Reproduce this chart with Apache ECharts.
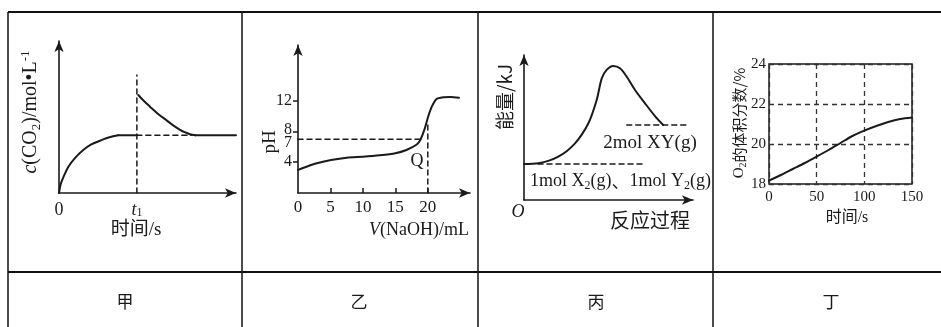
<!DOCTYPE html>
<html><head><meta charset="utf-8">
<script src="https://cdn.jsdelivr.net/npm/echarts@6/dist/echarts.min.js"></script>
<style>html,body{margin:0;padding:0;background:#fff}#c{width:941px;height:327px}</style>
</head><body><div id="c"></div>
<script>
// ---- 甲 : c(CO2) vs time (schematic units 0..100)
const jiaRise = [[0,0],[1,6],[2.5,10.5],[5.3,17.3],[9,23],[13.7,28.3],[18,31.8],[23.2,34.4],[28,36.5],[33.5,38]];
const jiaFlatA = [[33.5,38],[44,38]];
const jiaDecay = [[44.8,64.5],[48,60.5],[51.4,56.8],[56,52],[60.8,47.8],[64.5,44.5],[68.4,41.6],[71,40],[74,38.7],[77,38]];
const jiaFlatB = [[77,38],[100,38]];
const jiaDashH = [[44,38],[75,38]];
const jiaDashV = [[44,0],[44,77.6]];
const jiaTickValues = [0,44];
const jiaTickLabels = ['0','{i|t}{s|1}'];

// ---- 乙 : pH vs V(NaOH)
const yiCurve = [[0,3.0],[1.3,3.42],[2.9,3.86],[5.1,4.29],[7.5,4.6],[10,4.72],[12.6,4.9],[15,5.16],[16.7,5.59],[18.3,6.3],[18.9,7.0],[19.5,8.3],[20.05,9.92],[20.6,11.2],[21.3,12.2],[22.4,12.45],[23.5,12.48],[24.8,12.4]];
const yiDashH = [[0,7],[18.9,7]];
const yiDashV = [[20,0],[20,9.3]];
const yiXTicks = [0,5,10,15,20];
const yiXTickMarks = [5,10,15,20];
const yiYTicks = [4,7,8,12];
const yiYTickMarks = [4,8,12];

// ---- 丙 : energy vs reaction progress (schematic units 0..100)
const bingCurve = [[0,24.8],[8.5,25.3],[20.3,29.9],[30.2,39.1],[38.1,52.9],[43,69],[46,83.9],[48.9,89.7],[52.8,92.4],[56.8,90.8],[60.8,85],[65.7,75.9],[71.6,66.7],[77.5,57.9],[82.4,51.7]];
const bingDashLow = [[8.3,24.8],[69.8,24.8]];
const bingDashHigh = [[60.8,51.7],[97.2,51.7]];

// ---- 丁 : O2 volume fraction vs time
const dingCurve = [[0,18.17],[12.5,18.45],[25,18.75],[37.5,19.05],[50,19.37],[62.5,19.7],[75,20.05],[87.5,20.4],[100,20.67],[112.5,20.9],[125,21.1],[137.5,21.25],[150,21.33]];

// ---- table labels
const panelNames = ['甲','乙','丙','丁'];

const SERIF = '"Liberation Serif","Noto Sans CJK SC",serif';
const CJK = '"Noto Sans CJK SC",sans-serif';
const INK = '#1a1a1a';

const chart = echarts.init(document.getElementById('c'), null, {renderer:'canvas'});

function arrowAxis(extra){
  return Object.assign({
    type:'value', splitLine:{show:false},
    axisLine:{show:true, symbol:['none','arrow'], symbolSize:[7,11], lineStyle:{color:INK, width:1.6}},
    axisTick:{show:false}, axisLabel:{show:false}
  }, extra);
}
function ln(xi, data, dashed, w, sm){
  return {type:'line', xAxisIndex:xi, yAxisIndex:xi, data:data, showSymbol:false, symbol:'none',
    smooth: dashed ? false : (sm === undefined ? 0.3 : sm), animation:false, silent:true,
    lineStyle:{color:INK, width: w || 2, type: dashed ? [5,4] : 'solid', cap:'round', join:'round'}};
}
function rich(size){
  return {
    s:{fontSize:Math.round(size*0.65), lineHeight:Math.round(size*0.6), verticalAlign:'bottom', fontFamily:SERIF, fill:INK},
    p:{fontSize:Math.round(size*0.65), lineHeight:Math.round(size*0.6), verticalAlign:'top', fontFamily:SERIF, fill:INK},
    i:{fontStyle:'italic', fontSize:size, lineHeight:size+4, fontFamily:SERIF, fill:INK},
    n:{fontSize:size, lineHeight:size+4, fontFamily:SERIF, fill:INK},
    c:{fontSize:size, lineHeight:size+4, fontFamily:CJK, fill:INK}
  };
}
function txt(x,y,text,size,opts){
  opts = opts || {};
  const al = opts.align || 'center';
  return {type:'text', x:x, y:y, rotation:opts.rot||0, silent:true,
    style:{text:text, fill:INK, font:(opts.italic?'italic ':'')+size+'px '+(opts.font||SERIF),
      align:al, verticalAlign:'middle', textAlign:al, textVerticalAlign:'middle',
      rich: opts.rich ? rich(size) : undefined}};
}
function gl(x1,y1,x2,y2,w){
  return {type:'line', silent:true, shape:{x1:x1,y1:y1,x2:x2,y2:y2}, style:{stroke:'#111', lineWidth:w||1.5}};
}

const option = {
  animation:false,
  backgroundColor:'#fff',
  grid:[
    {left:59, top:41, width:177, height:152},
    {left:298, top:45, width:172, height:148},
    {left:524, top:55, width:169, height:145},
    {left:769, top:64, width:143, height:120, show:true, borderColor:INK, borderWidth:1.5}
  ],
  xAxis:[
    arrowAxis({gridIndex:0, min:0, max:100,
      axisLabel:{show:true, customValues:jiaTickValues, margin:8, color:INK, fontSize:18, fontFamily:SERIF,
        formatter:function(v){ return jiaTickLabels[jiaTickValues.indexOf(v)]; },
        rich:{i:{fontStyle:'italic', fontSize:18, fontFamily:SERIF, color:INK}, s:{fontSize:12, fontFamily:SERIF, color:INK, verticalAlign:'bottom', lineHeight:12, padding:[9,0,0,0]}}}}),
    arrowAxis({gridIndex:1, min:0, max:26.5,
      axisTick:{show:true, inside:true, length:5, customValues:yiXTickMarks, lineStyle:{color:INK, width:1.5}},
      axisLabel:{show:true, customValues:yiXTicks, margin:6, color:INK, fontSize:17, fontFamily:SERIF}}),
    arrowAxis({gridIndex:2, min:0, max:100}),
    {type:'value', gridIndex:3, min:0, max:150, interval:50,
      axisLine:{show:false}, axisTick:{show:false},
      splitLine:{show:true, lineStyle:{color:'#333', width:1.3, type:[5,4]}},
      axisLabel:{margin:6, color:INK, fontSize:15, fontFamily:SERIF}}
  ],
  yAxis:[
    arrowAxis({gridIndex:0, min:0, max:100}),
    arrowAxis({gridIndex:1, min:0, max:19.25,
      axisTick:{show:true, length:5, customValues:yiYTickMarks, lineStyle:{color:INK, width:1.5}},
      axisLabel:{show:true, customValues:yiYTicks, margin:6, color:INK, fontSize:16, fontFamily:SERIF,
        formatter:function(v){ return v === 7 ? '{d|7}' : (v === 8 ? '{u|8}' : String(v)); },
        rich:{d:{fontSize:16, fontFamily:SERIF, color:INK, padding:[8,0,0,0]}, u:{fontSize:16, fontFamily:SERIF, color:INK, padding:[0,0,3,0]}}}}),
    arrowAxis({gridIndex:2, min:0, max:100}),
    {type:'value', gridIndex:3, min:18, max:24, interval:2,
      axisLine:{show:false}, axisTick:{show:false},
      splitLine:{show:true, lineStyle:{color:'#333', width:1.3, type:[5,4]}},
      axisLabel:{margin:3, color:INK, fontSize:15, fontFamily:SERIF}}
  ],
  series:[
    ln(0, jiaRise), ln(0, jiaFlatA, false, 2, false), ln(0, jiaDecay), ln(0, jiaFlatB, false, 2, false),
    ln(0, jiaDashH, true, 1.5), ln(0, jiaDashV, true, 1.5),
    ln(1, yiCurve, false, 2, 0.2), ln(1, yiDashH, true, 1.5), ln(1, yiDashV, true, 1.5),
    ln(2, bingCurve, false, 2, 0.3), ln(2, bingDashLow, true, 1.5), ln(2, bingDashHigh, true, 1.5),
    ln(3, dingCurve, false, 2, 0.3)
  ],
  graphic:[
    // table rules
    gl(8,12,941,12,2), gl(8,12,8,327), gl(242,12,242,327), gl(478,12,478,327), gl(713,12,713,327),
    gl(8,272,941,272,2),
    // bottom labels
    txt(125,302,panelNames[0],17,{font:CJK}), txt(359,302,panelNames[1],17,{font:CJK}),
    txt(596,302,panelNames[2],17,{font:CJK}), txt(831,302,panelNames[3],17,{font:CJK}),
    // 甲 titles
    txt(31,112,'{i|c}{n|(CO}{s|2}{n|)/mol•L}{p|-1}',20,{rot:Math.PI/2, rich:true}),
    txt(136,230,'时间/s',19),
    // 乙 titles
    txt(270,142,'pH',19,{rot:Math.PI/2}),
    txt(419,230,'{i|V}{n|(NaOH)/mL}',18,{rich:true}),
    txt(417,161,'Q',18),
    // 丙 titles
    txt(505,97,'能量/kJ',19,{rot:Math.PI/2, font:CJK}),
    txt(518,212,'O',18,{italic:true}),
    txt(650,143,'2mol XY(g)',19),
    txt(530,181,'{n|1mol X}{s|2}{n|(g)}{c|、}{n|1mol Y}{s|2}{n|(g)}',18,{rich:true, align:'left'}),
    txt(650,220,'反应过程',20,{font:CJK}),
    // 丁 titles
    txt(739,123,'{n|O}{s|2}{c|的体积分数/%}',15,{rot:Math.PI/2, rich:true}),
    txt(847,218,'时间/s',16)
  ]
};
chart.setOption(option);
</script></body></html>
